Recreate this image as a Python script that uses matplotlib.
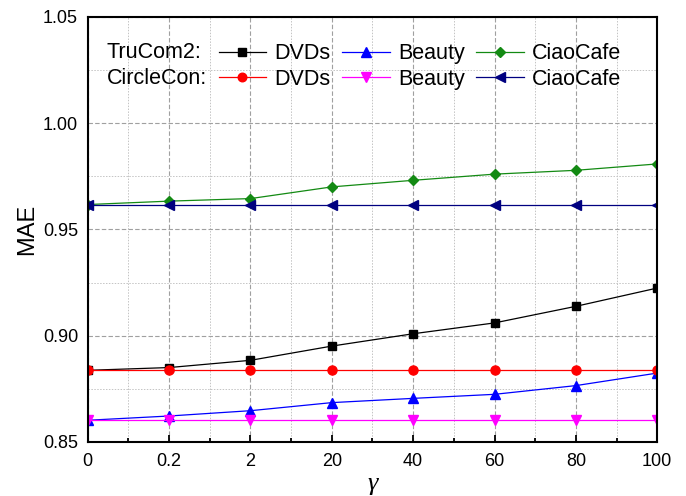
import numpy as np
import matplotlib
matplotlib.use("Agg")
import matplotlib.pyplot as plt
from matplotlib.ticker import MultipleLocator

plt.rcParams["font.family"] = ["Liberation Sans", "DejaVu Sans"]

gammas = ["0", "0.2", "2", "20", "40", "60", "80", "100"]

# TruCom2
tru_dvds = [0.8837, 0.8850, 0.8884, 0.8951, 0.9009, 0.9060, 0.9138, 0.9224]
tru_beauty = [0.8602, 0.8622, 0.8647, 0.8685, 0.8705, 0.8724, 0.8765, 0.8824]
tru_ciao = [0.9617, 0.9633, 0.9645, 0.9700, 0.9731, 0.9760, 0.9778, 0.9808]
# CircleCon (constant baselines)
circ_dvds = [0.8837] * 8
circ_beauty = [0.8602] * 8
circ_ciao = [0.9617] * 8

fig = plt.figure(figsize=(6.86, 4.96), dpi=100)
ax = fig.add_axes([0.128, 0.109, 0.830, 0.857])

x = np.arange(len(gammas))
ms = 6
lw = 0.9
h1, = ax.plot(x, tru_dvds, color="black", marker="s", ms=ms, lw=lw)
h2, = ax.plot(x, tru_beauty, color="#0000ff", marker="^", ms=ms + 1, lw=lw)
h3, = ax.plot(x, tru_ciao, color="#138a13", marker="D", ms=ms - 0.5, lw=lw)
h4, = ax.plot(x, circ_dvds, color="#ff0000", marker="o", ms=ms + 0.5, lw=lw)
h5, = ax.plot(x, circ_beauty, color="#ff00ff", marker="v", ms=ms + 1, lw=lw)
h6, = ax.plot(x, circ_ciao, color="#000080", marker="<", ms=ms + 1, lw=lw)

ax.set_xlim(0, len(gammas) - 1)
ax.set_ylim(0.85, 1.05)
ax.set_xticks(x)
ax.set_xticklabels(gammas)
ax.xaxis.set_minor_locator(MultipleLocator(0.5))
ax.yaxis.set_major_locator(MultipleLocator(0.05))
ax.yaxis.set_minor_locator(MultipleLocator(0.025))
ax.yaxis.set_major_formatter(plt.FormatStrFormatter("%.2f"))
ax.tick_params(which="both", direction="in", labelsize=13, width=1.3)
ax.tick_params(axis="x", which="major", length=5, pad=8)
ax.tick_params(axis="x", which="minor", length=3)
ax.tick_params(axis="y", which="both", length=0, pad=7)
ax.grid(True, which="major", color="#a0a0a0", ls=(0, (4, 2)), lw=0.8)
ax.grid(True, which="minor", color="#c4c4c4", ls=(0, (1.5, 1.5)), lw=0.7)
ax.set_axisbelow(True)
for s in ax.spines.values():
    s.set_linewidth(1.5)

ax.set_ylabel("MAE", fontsize=17)
ax.yaxis.set_label_coords(-0.088, 0.5)
ax.set_xlabel("γ", fontsize=19, family="Liberation Serif", style="italic", labelpad=2)

fs = 15.5
ax.text(0.033, 0.915, "TruCom2:", transform=ax.transAxes, fontsize=fs, va="center")
ax.text(0.033, 0.855, "CircleCon:", transform=ax.transAxes, fontsize=fs, va="center")
ax.legend([h1, h4, h2, h5, h3, h6], ["DVDs", "DVDs", "Beauty", "Beauty", "CiaoCafe", "CiaoCafe"],
          ncol=3, frameon=False, fontsize=fs, handlelength=2.2, handletextpad=0.38,
          columnspacing=0.55, labelspacing=0.2, markerscale=0.95,
          loc="upper left", bbox_to_anchor=(0.23, 0.938), borderaxespad=0, borderpad=0)

fig.savefig("out.png", dpi=100)
